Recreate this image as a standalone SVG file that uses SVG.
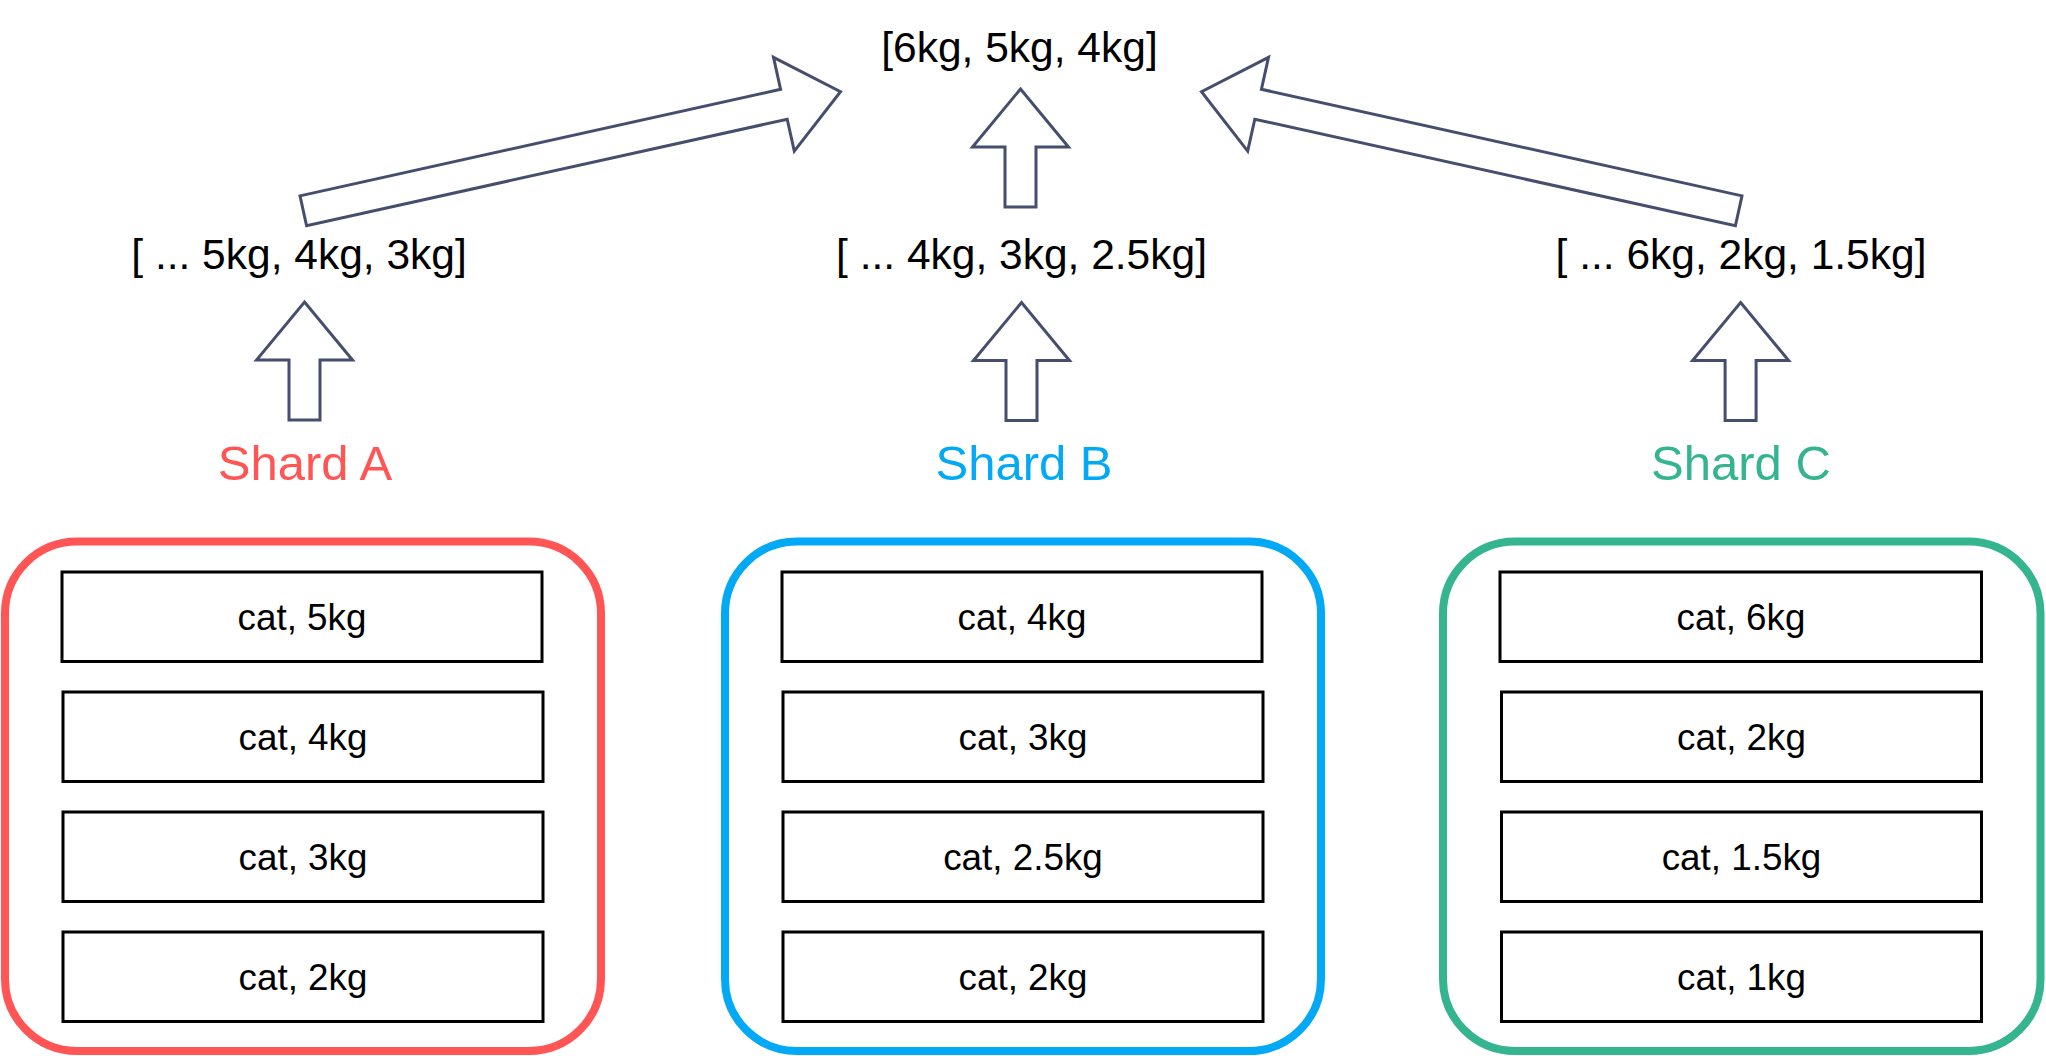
<svg xmlns="http://www.w3.org/2000/svg" xmlns:xlink="http://www.w3.org/1999/xlink" width="2046" height="1056" viewBox="0 0 2046 1056">
<style>
  text { font-family: "Liberation Sans", Arial, Helvetica, sans-serif; text-anchor: middle; fill: #000; }
  .list { font-size: 42.5px; }
  .item { font-size: 36.8px; }
  .label { font-size: 49px; }
  .cell { fill: #fff; stroke: #000; stroke-width: 3; }
  .shard { fill: #fff; stroke-width: 8; }
  .blk { fill: #fff; stroke: #454F6D; stroke-width: 3; stroke-linejoin: miter; }
</style>
<defs>
  <path id="uparrow" d="M0,0 L48,58 L15.5,58 L15.5,118 L-15.5,118 L-15.5,58 L-48,58 Z"/>
</defs>
<rect width="2046" height="1056" fill="#fff"/>

<g id="shard-a">
  <rect class="shard" x="5" y="541.5" width="596" height="509.5" rx="72" ry="72" stroke="#FF5555"/>
  <rect class="cell" x="62" y="572" width="480" height="89.5"/>
  <text class="item" x="302" y="630">cat, 5kg</text>
  <rect class="cell" x="63" y="692" width="480" height="89.5"/>
  <text class="item" x="303" y="750">cat, 4kg</text>
  <rect class="cell" x="63" y="812" width="480" height="89.5"/>
  <text class="item" x="303" y="870">cat, 3kg</text>
  <rect class="cell" x="63" y="932" width="480" height="89.5"/>
  <text class="item" x="303" y="990">cat, 2kg</text>
</g>
<g id="shard-b">
  <rect class="shard" x="725" y="541.5" width="596" height="509.5" rx="72" ry="72" stroke="#03A9F4"/>
  <rect class="cell" x="782" y="572" width="480" height="89.5"/>
  <text class="item" x="1022" y="630">cat, 4kg</text>
  <rect class="cell" x="783" y="692" width="480" height="89.5"/>
  <text class="item" x="1023" y="750">cat, 3kg</text>
  <rect class="cell" x="783" y="812" width="480" height="89.5"/>
  <text class="item" x="1023" y="870">cat, 2.5kg</text>
  <rect class="cell" x="783" y="932" width="480" height="89.5"/>
  <text class="item" x="1023" y="990">cat, 2kg</text>
</g>
<g id="shard-c">
  <rect class="shard" x="1443" y="541.5" width="597.5" height="509.5" rx="72" ry="72" stroke="#35B490"/>
  <rect class="cell" x="1500" y="572" width="481.5" height="89.5"/>
  <text class="item" x="1741" y="630">cat, 6kg</text>
  <rect class="cell" x="1501.5" y="692" width="480" height="89.5"/>
  <text class="item" x="1741.5" y="750">cat, 2kg</text>
  <rect class="cell" x="1501.5" y="812" width="480" height="89.5"/>
  <text class="item" x="1741.5" y="870">cat, 1.5kg</text>
  <rect class="cell" x="1501.5" y="932" width="480" height="89.5"/>
  <text class="item" x="1741.5" y="990">cat, 1kg</text>
</g>

<g id="label-a"><text class="label" x="305" y="480" style="fill:#FF5555">Shard A</text></g>
<g id="label-b"><text class="label" x="1024" y="480" style="fill:#03A9F4">Shard B</text></g>
<g id="label-c"><text class="label" x="1741" y="480" style="fill:#35B490">Shard C</text></g>

<g id="partial-a"><text class="list" x="299" y="269">[ ... 5kg, 4kg, 3kg]</text></g>
<g id="partial-b"><text class="list" x="1021.5" y="269">[ ... 4kg, 3kg, 2.5kg]</text></g>
<g id="partial-c"><text class="list" x="1741" y="269">[ ... 6kg, 2kg, 1.5kg]</text></g>
<g id="result"><text class="list" x="1019.5" y="62">[6kg, 5kg, 4kg]</text></g>

<g id="connectors">
  <use xlink:href="#uparrow" href="#uparrow" class="blk" transform="translate(304.5,302)"/>
  <use xlink:href="#uparrow" href="#uparrow" class="blk" transform="translate(1021.5,302.5)"/>
  <use xlink:href="#uparrow" href="#uparrow" class="blk" transform="translate(1740.6,302.5)"/>
  <use xlink:href="#uparrow" href="#uparrow" class="blk" transform="translate(1020.5,89)"/>
  <polygon class="blk" points="300,195.9 780.6,89.3 773.5,57.4 840.5,91.7 794.3,151.1 787.2,119.2 306.6,225.7"/>
  <polygon class="blk" points="1742,195.9 1261.4,89.3 1268.5,57.4 1201.5,91.7 1247.7,151.1 1254.8,119.2 1735.4,225.7"/>
</g>
</svg>
